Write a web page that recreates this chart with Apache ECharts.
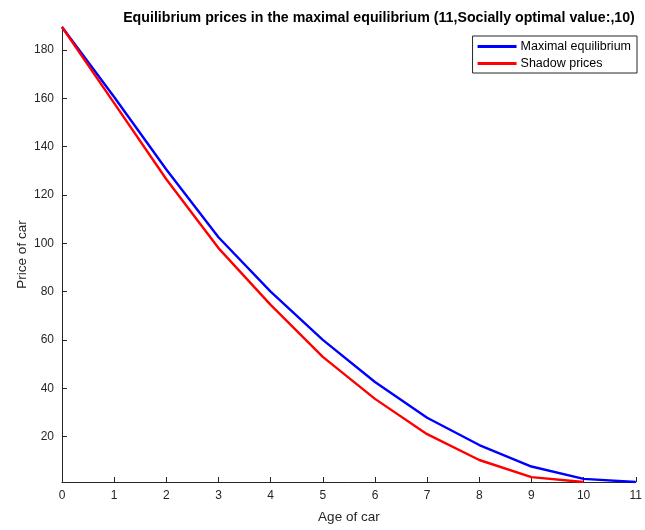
<!DOCTYPE html>
<html>
<head>
<meta charset="utf-8">
<script src="https://cdn.jsdelivr.net/npm/echarts@6/dist/echarts.min.js"></script>
<style>html,body{margin:0;padding:0;background:#fff;}#c{width:645px;height:530px;}</style>
</head>
<body>
<div id="c"></div>
<script>
var ages = [0,1,2,3,4,5,6,7,8,9,10,11];
var maximalEq = [189.5,160.5,130.5,102.5,80,60,42.6,27.8,16.5,7.6,2.5,1.2];
var shadowPrices = [189.5,158,126.5,98,74.5,53,35.6,21,10.3,3.2,1.2];
var yTicks = [20,40,60,80,100,120,140,160,180];
var xTicks = [0,1,2,3,4,5,6,7,8,9,10,11];
var seriesNames = ['Maximal equilibrium','Shadow prices'];
var titleText = 'Equilibrium prices in the maximal equilibrium (11,Socially optimal value:,10)';

function pairs(xs, ys){ return ys.map(function(v,i){ return [xs[i], v]; }); }

var font = 'Liberation Sans, Arial, Helvetica, sans-serif';
var axisCol = '#262626';
var chart = echarts.init(document.getElementById('c'), null, {renderer:'canvas'});
chart.setOption({
  animation:false,
  backgroundColor:'#fff',
  title:{text:titleText,left:374,textAlign:'center',top:6,
    textStyle:{fontFamily:font,fontSize:14.2,fontWeight:'bold',color:'#000'}},
  grid:{left:62,right:6,top:27,bottom:48,containLabel:false},
  legend:{orient:'vertical',right:8,top:36,itemWidth:39,itemHeight:3,itemGap:4,
    borderColor:axisCol,borderWidth:1,padding:[4,6,3,5],icon:'rect',
    textStyle:{fontFamily:font,fontSize:12.5,color:'#000',padding:[0,0,0,-1]},
    data:seriesNames},
  xAxis:{type:'value',min:0,max:11,
    name:'Age of car',nameLocation:'middle',nameGap:28,nameMoveOverlap:false,
    nameTextStyle:{fontFamily:font,fontSize:13.5,color:axisCol},
    axisLine:{show:true,onZero:false,lineStyle:{color:axisCol,width:1}},
    axisTick:{show:true,inside:true,length:5,customValues:xTicks,lineStyle:{color:axisCol}},
    axisLabel:{customValues:xTicks,fontFamily:font,fontSize:12,color:axisCol,margin:8},
    splitLine:{show:false}},
  yAxis:{type:'value',min:1.2,max:189.5,
    name:'Price of car',nameLocation:'middle',nameGap:33,nameMoveOverlap:false,
    nameTextStyle:{fontFamily:font,fontSize:13.5,color:axisCol},
    axisLine:{show:true,lineStyle:{color:axisCol,width:1}},
    axisTick:{show:true,inside:true,length:5,customValues:yTicks,lineStyle:{color:axisCol}},
    axisLabel:{customValues:yTicks,fontFamily:font,fontSize:12,color:axisCol,margin:8},
    splitLine:{show:false}},
  series:[
    {name:seriesNames[0],type:'line',data:pairs(ages,maximalEq),showSymbol:false,symbol:'none',
      lineStyle:{color:'#0000ff',width:2.4},itemStyle:{color:'#0000ff'},z:2},
    {name:seriesNames[1],type:'line',data:pairs(ages,shadowPrices),showSymbol:false,symbol:'none',
      lineStyle:{color:'#ff0000',width:2.4},itemStyle:{color:'#ff0000'},z:3}
  ]
});
</script>
</body>
</html>
